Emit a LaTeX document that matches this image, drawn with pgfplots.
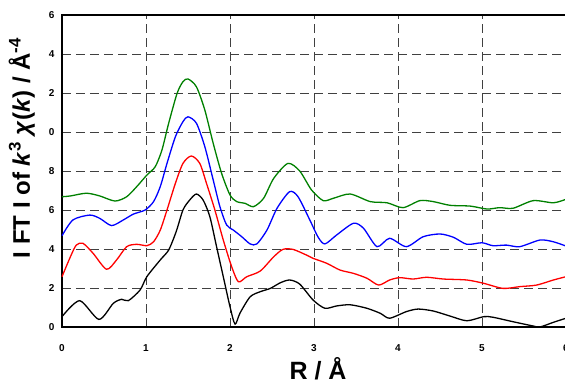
\documentclass[border=0pt]{standalone}
\usepackage{pgfplots}
\pgfplotsset{compat=1.18}
\usepackage{fontspec}
\setmainfont{Liberation Sans}
\begin{document}
\begin{tikzpicture}
\begin{axis}[
  at={(62pt,58pt)}, anchor=south west,
  scale only axis, width=504pt, height=312pt,
  xmin=0, xmax=6, ymin=0, ymax=16,
  xtick={0,1,2,3,4,5,6},
  ytick={0,2,4,6,8,10,12,14,16},
  yticklabels={0,2,4,6,8,0,2,4,6},
  major tick length=0pt,
  axis line style={line width=2.5pt},
  grid=major,
  major grid style={dash pattern=on 9pt off 5pt, line width=0.8pt, color=black!75},
  /pgf/number format/assume math mode=true,
  tick label style={font=\fontsize{10}{10}\selectfont\bfseries},
  xticklabel style={yshift=-14pt},
  yticklabel style={xshift=-4pt},
  xlabel={R / Å},
  ylabel={I FT I of \textit{k}\textsuperscript{3} \textit{χ}(\textit{k}) / Å\textsuperscript{-4}},
  every axis x label/.style={at={(axis description cs:0.508,-0.168)}, anchor=base, font=\fontsize{25}{25}\selectfont\bfseries},
  every axis y label/.style={at={(axis description cs:-0.08,0.574)}, rotate=90, anchor=center, font=\fontsize{24}{24}\selectfont\bfseries},
  every axis plot/.append style={line width=1.3pt, smooth, tension=0.45},
  clip=false,
]
% black
\addplot[black] coordinates {
(0,0.53)(0.21,1.35)(0.44,0.39)(0.61,1.21)(0.71,1.42)(0.79,1.35)(0.93,1.9)(1.01,2.58)(1.17,3.44)(1.27,3.95)(1.36,4.9)(1.44,6.0)(1.52,6.51)(1.60,6.82)(1.68,6.51)(1.76,5.66)(1.84,4.12)(1.92,2.58)(2.0,1.04)(2.06,0.15)(2.12,0.72)(2.24,1.55)(2.36,1.81)(2.48,1.98)(2.60,2.27)(2.71,2.41)(2.83,2.2)(2.99,1.38)(3.13,0.96)(3.27,1.08)(3.43,1.14)(3.63,0.96)(3.79,0.7)(3.90,0.45)(4.10,0.79)(4.24,0.92)(4.42,0.82)(4.62,0.56)(4.82,0.32)(5.02,0.53)(5.13,0.5)(5.37,0.27)(5.61,0.05)(5.69,0.0)(5.85,0.24)(6.0,0.45)
};
% red
\addplot[red] coordinates {
(0,2.58)(0.1,3.6)(0.17,4.2)(0.25,4.29)(0.37,3.78)(0.53,2.96)(0.65,3.44)(0.77,4.12)(0.89,4.24)(1.01,4.17)(1.09,4.37)(1.17,4.97)(1.25,6.0)(1.35,7.37)(1.44,8.39)(1.54,8.77)(1.64,8.39)(1.72,7.37)(1.82,6.0)(1.92,4.46)(2.02,3.09)(2.10,2.32)(2.20,2.58)(2.36,2.87)(2.52,3.6)(2.63,3.98)(2.75,3.98)(2.91,3.69)(2.99,3.52)(3.15,3.27)(3.31,2.92)(3.47,2.75)(3.63,2.5)(3.77,2.15)(3.90,2.41)(4.02,2.53)(4.18,2.46)(4.34,2.55)(4.54,2.46)(4.82,2.41)(5.02,2.24)(5.25,1.98)(5.45,2.07)(5.65,2.15)(5.85,2.41)(6.0,2.58)
};
% blue
\addplot[blue] coordinates {
(0,4.68)(0.13,5.49)(0.33,5.74)(0.45,5.57)(0.59,5.2)(0.73,5.49)(0.85,5.79)(0.99,6.0)(1.09,6.43)(1.17,7.2)(1.25,8.39)(1.35,9.76)(1.44,10.53)(1.50,10.78)(1.60,10.45)(1.70,9.25)(1.80,7.54)(1.88,6.17)(1.96,5.23)(2.04,4.97)(2.14,4.63)(2.24,4.26)(2.32,4.26)(2.44,4.97)(2.56,6.09)(2.71,6.94)(2.81,6.68)(2.95,5.49)(3.05,4.6)(3.13,4.26)(3.27,4.72)(3.47,5.32)(3.59,5.06)(3.75,4.12)(3.90,4.55)(4.10,4.12)(4.30,4.63)(4.50,4.77)(4.66,4.6)(4.82,4.24)(5.0,4.32)(5.13,4.17)(5.29,4.2)(5.45,4.12)(5.69,4.46)(5.85,4.37)(6.0,4.15)
};
% green
\addplot[color={rgb,255:red,0;green,128;blue,0}] coordinates {
(0,6.68)(0.1,6.72)(0.29,6.86)(0.45,6.72)(0.63,6.46)(0.77,6.68)(0.89,7.2)(1.01,7.79)(1.11,8.22)(1.19,9.08)(1.27,10.45)(1.37,11.98)(1.44,12.58)(1.50,12.72)(1.60,12.32)(1.70,11.13)(1.80,9.42)(1.90,7.88)(2.0,6.77)(2.08,6.43)(2.18,6.34)(2.28,6.17)(2.40,6.6)(2.52,7.62)(2.69,8.39)(2.83,8.0)(2.97,7.03)(3.11,6.48)(3.23,6.6)(3.43,6.82)(3.67,6.43)(3.87,6.37)(4.06,6.12)(4.26,6.48)(4.42,6.43)(4.62,6.24)(4.86,6.2)(5.06,6.05)(5.21,6.12)(5.37,6.09)(5.61,6.48)(5.85,6.37)(6.0,6.55)
};
\end{axis}
\pgfresetboundingbox
\path[use as bounding box] (0,0) rectangle (565pt,385pt);
\end{tikzpicture}
\end{document}
